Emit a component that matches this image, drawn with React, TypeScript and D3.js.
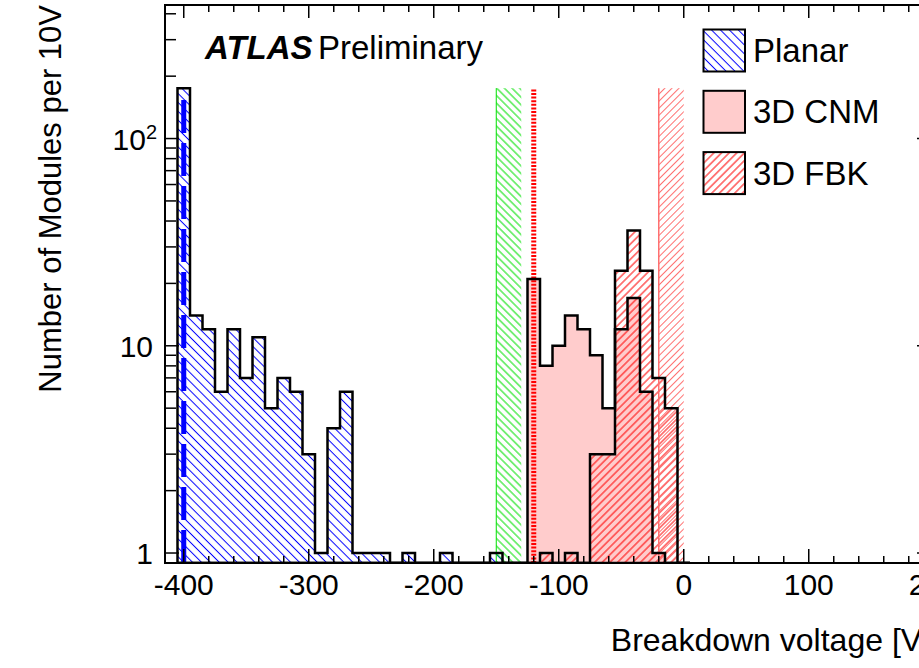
import React, { useRef, useEffect } from "react";
import * as d3 from "d3";

// bin centres, 10 V wide bins
const binCenters = [
  -400, -390, -380, -370, -360, -350, -340, -330, -320, -310, -300, -290, -280, -270,
  -260, -250, -240, -230, -220, -210, -200, -190, -180, -170, -160, -150, -140, -130,
  -120, -110, -100, -90, -80, -70, -60, -50, -40, -30, -20, -10, 0,
];
const planarCounts = [
  175, 14, 12, 6, 12, 7, 11, 5, 7, 6, 3, 1, 4, 6,
  1, 1, 1, 0, 1, 0, 0, 1, 0, 0, 0, 1, 0, 0,
  0, 0, 0, 0, 0, 0, 0, 0, 0, 0, 0, 0, 0,
];
const cnmCounts = [
  0, 0, 0, 0, 0, 0, 0, 0, 0, 0, 0, 0, 0, 0,
  0, 0, 0, 0, 0, 0, 0, 0, 0, 0, 0, 0, 0, 0,
  21, 8, 10, 14, 12, 9, 5, 12, 17, 6, 1, 0, 0,
];
const fbkCounts = [
  0, 0, 0, 0, 0, 0, 0, 0, 0, 0, 0, 0, 0, 0,
  0, 0, 0, 0, 0, 0, 0, 0, 0, 0, 0, 0, 0, 0,
  0, 1, 0, 1, 0, 3, 3, 23, 36, 23, 7, 5, 0,
];
const binWidth = 10;

const xTickValues = [-400, -300, -200, -100, 0, 100, 200];
const yTickValues = [1, 10, 100];
const legendLabels = ["Planar", "3D CNM", "3D FBK"];
const greenBand = [-150, -130];
const redBand = [-20, 0];
const planarMarker = -400;
const cnmMarker = -120;

const FONT = "'Liberation Sans', Arial, Helvetica, sans-serif";

const App = () => {
  const svgRef = useRef<SVGSVGElement>(null);

  useEffect(() => {
    const width = 919;
    const height = 668;
    const left = 165;
    const right = 931;
    const top = 5;
    const bottom = 563;

    const svg = d3.select(svgRef.current).attr("width", width).attr("height", height).html("");

    const x = d3.scaleLinear().domain([-415, 197.8]).range([left, right]);
    const y = d3.scaleLog().domain([0.895, 441]).range([bottom, top]);

    const defs = svg.append("defs");
    defs.append("clipPath").attr("id", "frame")
      .append("rect").attr("x", left).attr("y", top)
      .attr("width", right - left).attr("height", bottom - top);

    const hatch = (id: string, color: string, spacing: number, angle: number) => {
      const p = defs.append("pattern").attr("id", id)
        .attr("patternUnits", "userSpaceOnUse")
        .attr("width", spacing).attr("height", spacing)
        .attr("patternTransform", `rotate(${angle})`);
      p.append("line").attr("x1", spacing / 2).attr("x2", spacing / 2)
        .attr("y1", 0).attr("y2", spacing)
        .attr("stroke", color).attr("stroke-width", 1);
    };
    hatch("hBlue", "#0000ff", 6.3, -45);
    hatch("hRed", "#ff0000", 5.4, 45);
    hatch("hGreen", "#00e000", 5.4, -45);
    hatch("hRedLight", "#ff7070", 5, 45);

    const plot = svg.append("g").attr("clip-path", "url(#frame)");

    const stepPath = (counts: number[]) => {
      const pts: [number, number][] = [[x(binCenters[0] - binWidth / 2), bottom]];
      counts.forEach((c, i) => {
        const yy = c > 0 ? y(c) : bottom;
        pts.push([x(binCenters[i] - binWidth / 2), yy], [x(binCenters[i] + binWidth / 2), yy]);
      });
      pts.push([x(binCenters[binCenters.length - 1] + binWidth / 2), bottom]);
      return d3.line()(pts) as string;
    };

    // fills
    plot.append("path").attr("d", stepPath(planarCounts)).attr("fill", "url(#hBlue)");
    plot.append("path").attr("d", stepPath(cnmCounts)).attr("fill", "#ffcccc");
    plot.append("path").attr("d", stepPath(fbkCounts)).attr("fill", "url(#hRed)");

    // bands and marker lines
    const bandTop = y(d3.max(planarCounts) as number);
    plot.append("rect").attr("x", x(greenBand[0])).attr("y", bandTop)
      .attr("width", x(greenBand[1]) - x(greenBand[0])).attr("height", bottom - bandTop)
      .attr("fill", "url(#hGreen)");
    plot.append("line").attr("x1", x(greenBand[0])).attr("x2", x(greenBand[0]))
      .attr("y1", bandTop).attr("y2", bottom).attr("stroke", "#00e000").attr("stroke-width", 1);
    plot.append("rect").attr("x", x(redBand[0])).attr("y", bandTop)
      .attr("width", x(redBand[1]) - x(redBand[0])).attr("height", bottom - bandTop)
      .attr("fill", "url(#hRedLight)");
    plot.append("line").attr("x1", x(redBand[0])).attr("x2", x(redBand[0]))
      .attr("y1", bandTop).attr("y2", bottom).attr("stroke", "#ff7070").attr("stroke-width", 1.5);

    plot.append("line").attr("x1", x(planarMarker)).attr("x2", x(planarMarker))
      .attr("y1", bottom).attr("y2", bandTop + 4)
      .attr("stroke", "#0000ff").attr("stroke-width", 5).attr("stroke-dasharray", "33,10");
    plot.append("line").attr("x1", x(cnmMarker)).attr("x2", x(cnmMarker))
      .attr("y1", bottom).attr("y2", bandTop)
      .attr("stroke", "#ff0000").attr("stroke-width", 5).attr("stroke-dasharray", "2,1.6");

    // outlines
    [planarCounts, cnmCounts, fbkCounts].forEach((c) => {
      plot.append("path").attr("d", stepPath(c)).attr("fill", "none")
        .attr("stroke", "#000").attr("stroke-width", 2.5).attr("stroke-linejoin", "miter");
    });

    // frame
    svg.append("rect").attr("x", left).attr("y", top)
      .attr("width", right - left).attr("height", bottom - top)
      .attr("fill", "none").attr("stroke", "#000").attr("stroke-width", 2);

    const ticks = svg.append("g").attr("stroke", "#000").attr("stroke-width", 1.5);
    d3.range(-400, 200, 20).forEach((v) => {
      const major = v % 100 === 0;
      ticks.append("line").attr("x1", x(v)).attr("x2", x(v))
        .attr("y1", bottom).attr("y2", bottom - (major ? 14 : 7));
      ticks.append("line").attr("x1", x(v)).attr("x2", x(v))
        .attr("y1", top).attr("y2", top + (major ? 13 : 7));
    });
    const yMinor = [2, 3, 4, 5, 6, 7, 8, 9].flatMap((m) => [m, m * 10, m * 100]).filter((v) => v < 441);
    yTickValues.forEach((v) => {
      ticks.append("line").attr("x1", left).attr("x2", left + 14).attr("y1", y(v)).attr("y2", y(v));
      ticks.append("line").attr("x1", right).attr("x2", right - 14).attr("y1", y(v)).attr("y2", y(v));
    });
    yMinor.forEach((v) => {
      ticks.append("line").attr("x1", left).attr("x2", left + 11).attr("y1", y(v)).attr("y2", y(v));
      ticks.append("line").attr("x1", right).attr("x2", right - 7).attr("y1", y(v)).attr("y2", y(v));
    });

    const txt = svg.append("g").attr("font-family", FONT).attr("fill", "#000");
    xTickValues.forEach((v) => {
      txt.append("text").attr("x", x(v)).attr("y", 595).attr("text-anchor", "middle")
        .attr("font-size", 30).text(v);
    });
    yTickValues.forEach((v) => {
      const exp = Math.round(Math.log10(v));
      const t = txt.append("text").attr("x", exp >= 2 ? 157 : 153).attr("y", y(v) + 11)
        .attr("text-anchor", "end").attr("font-size", 30);
      if (exp >= 2) {
        t.append("tspan").text("10");
        t.append("tspan").attr("dy", -11).attr("font-size", 20).text(String(exp));
      } else {
        t.text(String(v));
      }
    });

    txt.append("text").attr("x", right).attr("y", 651).attr("text-anchor", "end")
      .attr("font-size", 32).text("Breakdown voltage [V]");
    txt.append("text").attr("transform", `translate(61,${top}) rotate(-90)`)
      .attr("text-anchor", "end").attr("font-size", 31).text("Number of Modules per 10V");

    txt.append("text").attr("x", 205).attr("y", 59).attr("font-size", 33)
      .attr("font-weight", "bold").attr("font-style", "italic").text("ATLAS");
    txt.append("text").attr("x", 318).attr("y", 59).attr("font-size", 33).text("Preliminary");

    // legend
    const legendFills = ["url(#hBlue)", "#ffcccc", "url(#hRed)"];
    legendLabels.forEach((label, i) => {
      const by = 29.5 + i * 61.3;
      svg.append("rect").attr("x", 703.5).attr("y", by).attr("width", 41.5).attr("height", 42)
        .attr("fill", legendFills[i]).attr("stroke", "#000").attr("stroke-width", 2);
      txt.append("text").attr("x", 753).attr("y", by + 32.5).attr("font-size", 33).text(label);
    });
  }, []);

  return (
    <svg
      ref={svgRef}
      style={{ position: "absolute", left: 0, top: 0, display: "block", background: "#fff" }}
    />
  );
};

export default App;
